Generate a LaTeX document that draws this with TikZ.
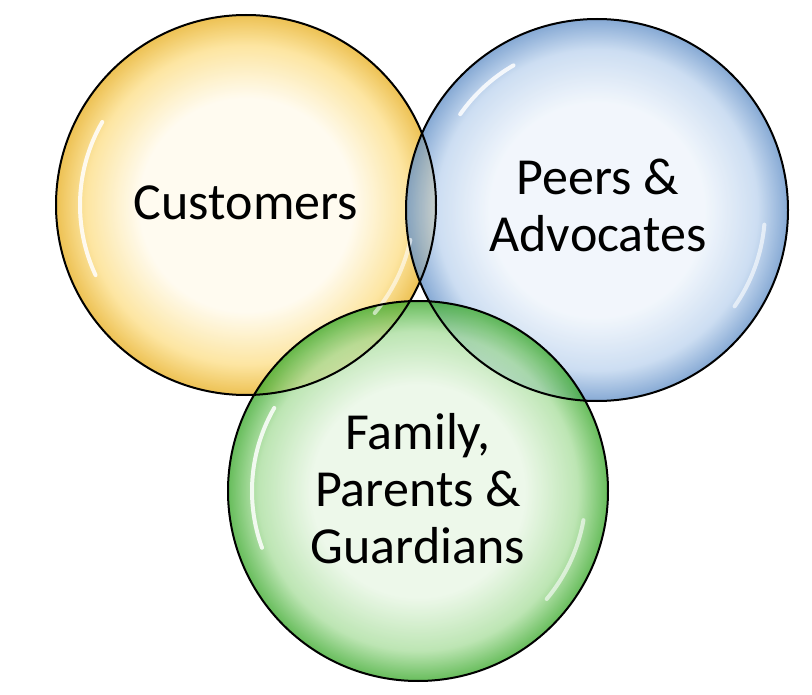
\documentclass[tikz,border=0pt]{standalone}
\usepackage{fontspec}
\setmainfont{Carlito}
\definecolor{yIn}{RGB}{255,250,236}
\definecolor{yMid}{RGB}{252,222,135}
\definecolor{yOut}{RGB}{232,176,35}
\definecolor{bIn}{RGB}{238,244,251}
\definecolor{bMid}{RGB}{190,212,238}
\definecolor{bOut}{RGB}{100,145,200}
\definecolor{gIn}{RGB}{232,246,228}
\definecolor{gMid}{RGB}{170,222,158}
\definecolor{gOut}{RGB}{60,170,45}
\pgfdeclareradialshading{bubY}{\pgfpointorigin}{color(0bp)=(yIn); color(14bp)=(yIn); color(21bp)=(yMid); color(25bp)=(yOut); color(50bp)=(yOut)}
\pgfdeclareradialshading{bubB}{\pgfpointorigin}{color(0bp)=(bIn); color(14bp)=(bIn); color(21bp)=(bMid); color(25bp)=(bOut); color(50bp)=(bOut)}
\pgfdeclareradialshading{bubG}{\pgfpointorigin}{color(0bp)=(gIn); color(14bp)=(gIn); color(21bp)=(gMid); color(25bp)=(gOut); color(50bp)=(gOut)}
\tikzset{
  bubble/.style={fill opacity=0.78},
  rim/.style={draw=black, line width=2pt},
  gloss/.style={draw=white, line width=4pt, line cap=round, opacity=0.85},
  label/.style={font=\fontsize{52}{57}\selectfont, align=center, anchor=base, inner sep=0pt}
}
\begin{document}
\begin{tikzpicture}[x=1pt,y=-1pt]
\useasboundingbox (0,0) rectangle (812,695);
% centres
\coordinate (cC) at (246,205);
\coordinate (cP) at (597,210);
\coordinate (cF) at (418,491);
% fills
\shade[bubble, shading=bubY] (cC) circle [radius=190pt];
\shade[bubble, shading=bubB] (cP) circle [radius=191pt];
\shade[bubble, shading=bubG] (cF) circle [radius=190pt];
% gloss highlights
\draw[gloss] ([shift={(150:166pt)}]cC) arc [start angle=150, end angle=205, radius=166pt];
\draw[gloss, opacity=0.6] ([shift={(-12:168pt)}]cC) arc [start angle=-12, end angle=-40, radius=168pt];
\draw[gloss] ([shift={(145:167pt)}]cP) arc [start angle=145, end angle=120, radius=167pt];
\draw[gloss, opacity=0.6] ([shift={(-5:168pt)}]cP) arc [start angle=-5, end angle=-35, radius=168pt];
\draw[gloss] ([shift={(150:166pt)}]cF) arc [start angle=150, end angle=200, radius=166pt];
\draw[gloss, opacity=0.6] ([shift={(-10:168pt)}]cF) arc [start angle=-10, end angle=-40, radius=168pt];
% outlines
\draw[rim] (cC) circle [radius=190pt];
\draw[rim] (cP) circle [radius=191pt];
\draw[rim] (cF) circle [radius=190pt];
% labels (base = baseline of the last line)
\node[label] (tC) at (246,220) {Customers};
\node[label] (tP) at (598,252) {Peers \&\\Advocates};
\node[label] (tF) at (418,563) {Family,\\Parents \&\\Guardians};
\end{tikzpicture}
\end{document}
